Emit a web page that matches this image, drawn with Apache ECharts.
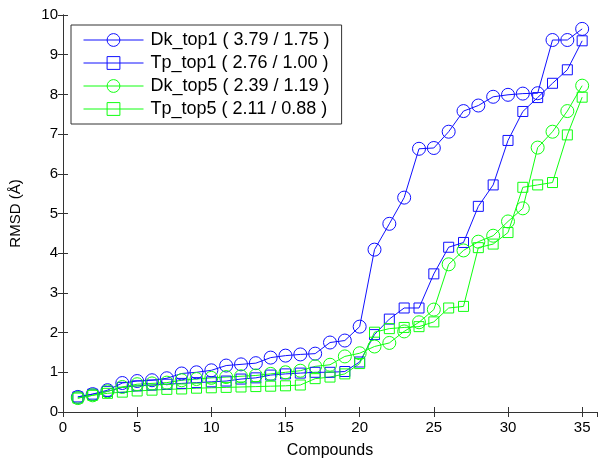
<!DOCTYPE html>
<html>
<head>
<meta charset="utf-8">
<script src="https://cdn.jsdelivr.net/npm/echarts@6/dist/echarts.min.js"></script>
<style>html,body{margin:0;padding:0;background:#fff;}#c{width:607px;height:470px;}</style>
</head>
<body>
<div id="c"></div>
<script>
var compounds = [1,2,3,4,5,6,7,8,9,10,11,12,13,14,15,16,17,18,19,20,21,22,23,24,25,26,27,28,29,30,31,32,33,34,35];
var dkTop1 = [0.38,0.45,0.55,0.73,0.78,0.80,0.85,0.97,1.00,1.05,1.17,1.20,1.23,1.37,1.42,1.45,1.47,1.75,1.80,2.15,4.09,4.74,5.40,6.63,6.65,7.06,7.58,7.72,7.94,7.99,8.02,8.03,9.37,9.37,9.65];
var tpTop1 = [0.38,0.45,0.52,0.62,0.66,0.68,0.70,0.72,0.74,0.76,0.78,0.83,0.86,0.93,0.96,0.98,1.00,1.00,1.02,1.26,1.95,2.34,2.62,2.62,3.48,4.15,4.27,5.18,5.72,6.84,7.57,7.92,8.28,8.62,9.35];
var dkTop5 = [0.35,0.42,0.52,0.63,0.70,0.72,0.74,0.80,0.83,0.86,0.88,0.90,0.92,0.96,1.00,1.04,1.15,1.19,1.40,1.48,1.65,1.74,2.03,2.26,2.58,3.72,4.07,4.29,4.44,4.80,5.13,6.66,7.06,7.58,8.22];
var tpTop5 = [0.35,0.42,0.47,0.50,0.53,0.55,0.57,0.58,0.60,0.61,0.62,0.63,0.64,0.65,0.66,0.68,0.84,0.88,0.96,1.22,2.01,2.10,2.13,2.15,2.27,2.62,2.66,4.14,4.23,4.52,5.66,5.72,5.78,6.98,7.93];
var seriesNames = ['Dk_top1 ( 3.79 / 1.75 )','Tp_top1 ( 2.76 / 1.00 )','Dk_top5 ( 2.39 / 1.19 )','Tp_top5 ( 2.11 / 0.88 )'];
var xTicks = [0,5,10,15,20,25,30,35];
var yTicks = [0,1,2,3,4,5,6,7,8,9,10];

function pairs(arr){ return compounds.map(function(c,i){ return [c, arr[i]]; }); }
var FONT = 'Liberation Sans, Arial, sans-serif';
var BLUE = '#1010ff', GREEN = '#10ff10';

function mkSeries(name, arr, color, symbol, size){
  return {
    name: name, type: 'line', data: pairs(arr),
    symbol: symbol, symbolSize: size,
    showAllSymbol: true,
    color: color,
    lineStyle: {color: color, width: 1},
    itemStyle: {color: 'rgba(255,255,255,0)', borderColor: color, borderWidth: 1},
    emphasis: {disabled: true},
    animation: false
  };
}

var axisLineStyle = {color: '#333', width: 1};
var chart = echarts.init(document.getElementById('c'), null, {renderer: 'canvas'});
chart.setOption({
  animation: false,
  backgroundColor: '#fff',
  grid: {left: 60, right: 10, top: 15, bottom: 58, containLabel: false},
  legend: {
    left: 71, top: 25, orient: 'vertical',
    data: seriesNames,
    backgroundColor: '#fff', borderColor: '#333', borderWidth: 1, borderRadius: 0,
    padding: [6, 12, 6, 12],
    itemWidth: 60, itemHeight: 16, itemGap: 5,
    itemStyle: {borderWidth: 1},
    lineStyle: {width: 1},
    textStyle: {fontFamily: FONT, fontSize: 18, color: '#000', padding: [0,0,0,2]},
    selectedMode: false
  },
  xAxis: [
    {type: 'value', min: 0, max: 36, interval: 5, position: 'bottom',
     name: 'Compounds', nameLocation: 'middle', nameGap: 31,
     nameTextStyle: {fontFamily: FONT, fontSize: 16, color: '#000'},
     axisLine: {show: true, lineStyle: axisLineStyle},
     axisTick: {show: true, inside: true, length: 5, lineStyle: axisLineStyle},
     axisLabel: {fontFamily: FONT, fontSize: 15, color: '#000', margin: 8, showMaxLabel: false,
       formatter: function(v){ return xTicks.indexOf(v) >= 0 ? String(v) : ''; }},
     splitLine: {show: false}},
    {type: 'value', min: 0, max: 36, interval: 5, position: 'top',
     axisLine: {show: true, lineStyle: axisLineStyle},
     axisTick: {show: true, inside: true, length: 5, lineStyle: axisLineStyle},
     axisLabel: {show: false}, splitLine: {show: false}}
  ],
  yAxis: [
    {type: 'value', min: 0, max: 10, interval: 1, position: 'left',
     name: 'RMSD (Å)', nameLocation: 'middle', nameGap: 40,
     nameTextStyle: {fontFamily: FONT, fontSize: 15, color: '#000'},
     axisLine: {show: true, lineStyle: axisLineStyle},
     axisTick: {show: true, inside: true, length: 5, lineStyle: axisLineStyle},
     axisLabel: {fontFamily: FONT, fontSize: 15, color: '#000', margin: 5,
       formatter: function(v){ return yTicks.indexOf(v) >= 0 ? String(v) : ''; }},
     splitLine: {show: false}},
    {type: 'value', min: 0, max: 10, interval: 1, position: 'right',
     axisLine: {show: true, lineStyle: axisLineStyle},
     axisTick: {show: true, inside: true, length: 5, lineStyle: axisLineStyle},
     axisLabel: {show: false}, splitLine: {show: false}}
  ],
  series: [
    mkSeries(seriesNames[0], dkTop1, BLUE, 'circle', 13),
    mkSeries(seriesNames[1], tpTop1, BLUE, 'rect', 10),
    mkSeries(seriesNames[2], dkTop5, GREEN, 'circle', 13),
    mkSeries(seriesNames[3], tpTop5, GREEN, 'rect', 10)
  ]
});
</script>
</body>
</html>
